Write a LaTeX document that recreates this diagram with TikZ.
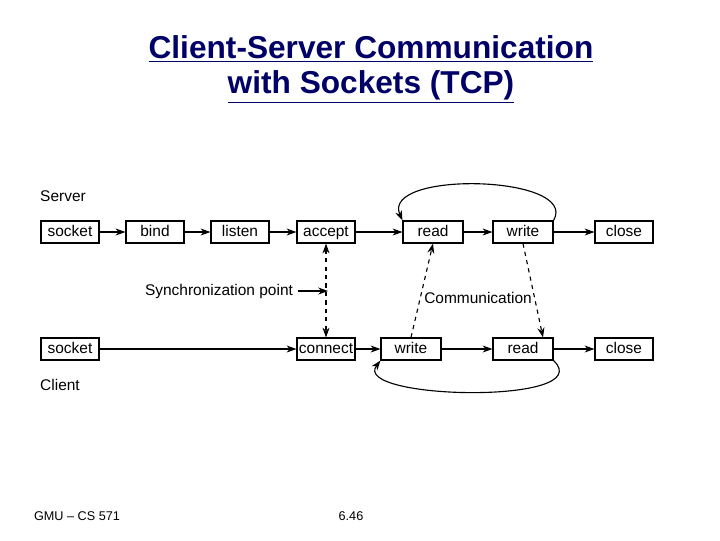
\documentclass[tikz,border=0pt]{standalone}
\usepackage{fontspec}
\setmainfont{Liberation Sans}
\usetikzlibrary{arrows.meta}
\begin{document}
\begin{tikzpicture}[x=0.025cm,y=-0.025cm,
  box/.style={draw,thick,minimum height=0.55cm,inner sep=0pt,text height=8pt,text depth=2pt,font=\fontsize{11}{12}\selectfont},
  lab/.style={font=\fontsize{11}{12}\selectfont},
  ttl/.style={font=\bfseries\fontsize{22.5}{24}\selectfont,text=blue!40!black},
  arr/.style={-{Stealth[length=7pt,width=5pt]},thick}]
\useasboundingbox (0,0) rectangle (720,540);
\node[ttl] (t1) at (371,49) {\underline{Client-Server Communication}};
\node[ttl] (t2) at (371,87) {\underline{with Sockets (TCP)}};
\node[lab] (srv) at (63,196) {Server};
\node[lab] (cli) at (60,385) {Client};
% server row
\node[box,minimum width=1.45cm] (ss) at (70,232) {socket};
\node[box,minimum width=1.45cm] (sb) at (155,232) {bind};
\node[box,minimum width=1.45cm] (sl) at (240,232) {listen};
\node[box,minimum width=1.45cm] (sa) at (326,232) {accept};
\node[box,minimum width=1.5cm] (sr) at (433,232) {read};
\node[box,minimum width=1.5cm] (sw) at (523,232) {write};
\node[box,minimum width=1.45cm] (sc) at (624,232) {close};
% client row
\node[box,minimum width=1.45cm] (cs) at (70,349) {socket};
\node[box,minimum width=1.45cm] (cc) at (326,349) {connect};
\node[box,minimum width=1.5cm] (cw) at (411,349) {write};
\node[box,minimum width=1.5cm] (cr) at (523,349) {read};
\node[box,minimum width=1.45cm] (cl) at (624,349) {close};
\draw[arr] (ss) -- (sb);
\draw[arr] (sb) -- (sl);
\draw[arr] (sl) -- (sa);
\draw[arr] (sa) -- (sr);
\draw[arr] (sr) -- (sw);
\draw[arr] (sw) -- (sc);
\draw[arr] (cs) -- (cc);
\draw[arr] (cc) -- (cw);
\draw[arr] (cw) -- (cr);
\draw[arr] (cr) -- (cl);
\draw[arr] (sw.north east) .. controls (580,175) and (380,170) .. (sr.north west);
\draw[arr] (cr.south east) .. controls (600,405) and (350,400) .. (cw.south west);
\node[lab] (sync) at (219,291) {Synchronization point};
\coordinate (sp) at (328,291);
\draw[arr] (sync) -- (sp);
\draw[arr,dashed,{Stealth[length=7pt,width=5pt]}-{Stealth[length=7pt,width=5pt]}] (sa.south) -- (cc.north);
\node[lab] (com) at (478,298) {Communication};
\draw[arr,dashed] (cw.north) -- (sr.south);
\draw[arr,dashed] (sw.south) -- ([xshift=0.5cm]cr.north);
\node[font=\fontsize{9}{10}\selectfont] (f1) at (77,516) {GMU – CS 571};
\node[font=\fontsize{9}{10}\selectfont] (f2) at (351,516) {6.46};
\end{tikzpicture}
\end{document}
